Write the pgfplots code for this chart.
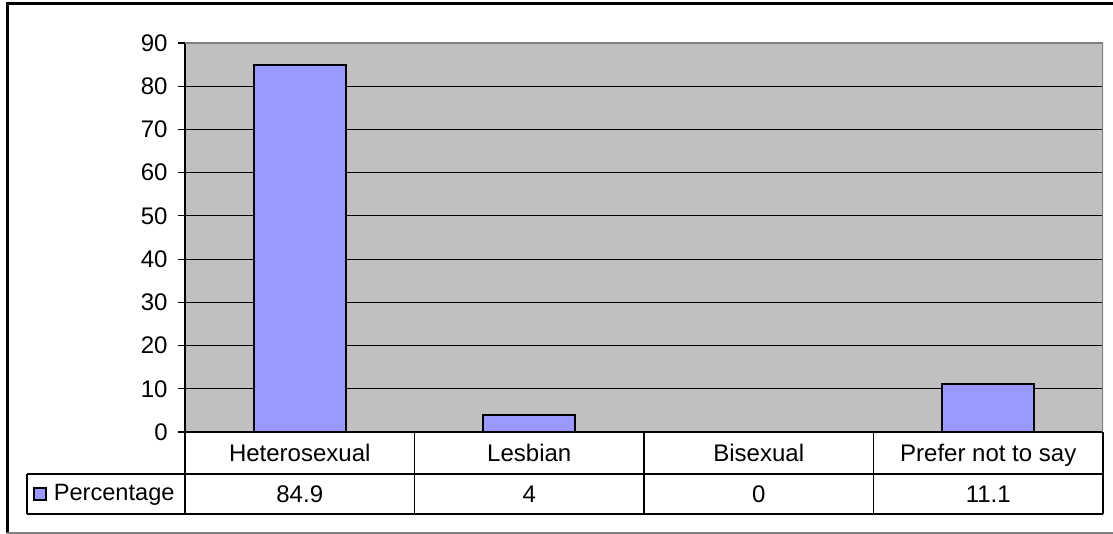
\documentclass[border=0pt]{standalone}
\usepackage{pgfplots}
\pgfplotsset{compat=1.18}
\usepackage{fontspec}
\setmainfont{Liberation Sans}
\definecolor{barblue}{HTML}{9999FF}
\definecolor{plotgray}{HTML}{C0C0C0}
\definecolor{edgegray}{HTML}{808080}
\begin{document}
\begin{tikzpicture}
\fontsize{11.8}{14}\selectfont
\useasboundingbox (0,0) rectangle (556.5pt,267pt);
% outer frame
\draw[line width=1.5pt] (3.5pt,0.5pt) -- (3.5pt,265pt) -- (560pt,265pt);
\draw[edgegray, line width=0.8pt] (3.5pt,0.5pt) -- (560pt,0.5pt);
\begin{axis}[
    at={(92.5pt,51pt)}, anchor=south west,
    scale only axis, width=459pt, height=194.5pt,
    xmin=-0.5, xmax=3.5, ymin=0, ymax=90,
    ytick={0,10,...,90},
    xtick={0,1,2,3},
    xticklabels={Heterosexual,Lesbian,Bisexual,Prefer not to say},
    extra x ticks={0,1,2,3},
    extra x tick labels={84.9,4,0,11.1},
    extra x tick style={xticklabel style={yshift=-20.5pt}},
    xticklabel style={anchor=base, yshift=-11.25pt, inner sep=0pt},
    x tick style={draw=none},
    y tick style={draw=black, line width=0.6pt},
    tick align=outside, major tick length=3.5pt,
    yticklabel style={anchor=east, inner sep=0pt, xshift=-5pt},
    /pgf/number format/assume math mode=true,
    ticklabel style={font=\fontsize{12}{14}\selectfont},
    axis background/.style={fill=plotgray},
    axis x line*=bottom, axis y line*=left,
    axis line style={black, line width=0.8pt},
    ymajorgrids, grid style={black, line width=0.5pt},
    ybar, bar width=0.4,
    legend style={at={(-0.166,-0.16)}, anchor=west, draw=none, fill=none,
      font=\fontsize{11.8}{14}\selectfont, inner sep=0pt,
      legend cell align=left},
    legend image code/.code={\draw[#1] (0pt,-3pt) rectangle (6pt,3pt);},
]
\addplot[fill=barblue, draw=black, line width=0.9pt] coordinates {
    (0,84.9) (1,4) (2,0) (3,11.1)
};
\addlegendentry{\hspace{1.5pt}Percentage}
\draw[edgegray, line width=0.8pt] (rel axis cs:0,1) -- (rel axis cs:1,1) -- (rel axis cs:1,0);
\end{axis}
% data table
\draw[black, line width=0.6pt]
    (13.5pt,30pt) -- (551.5pt,30pt)
    (13.5pt,10pt) -- (551.5pt,10pt)
    (13.5pt,10pt) -- (13.5pt,30pt)
    (92.5pt,10pt) -- (92.5pt,51pt)
    (207.25pt,10pt) -- (207.25pt,51pt)
    (322pt,10pt) -- (322pt,51pt)
    (436.75pt,10pt) -- (436.75pt,51pt)
    (551.5pt,10pt) -- (551.5pt,51pt);
\end{tikzpicture}
\end{document}
